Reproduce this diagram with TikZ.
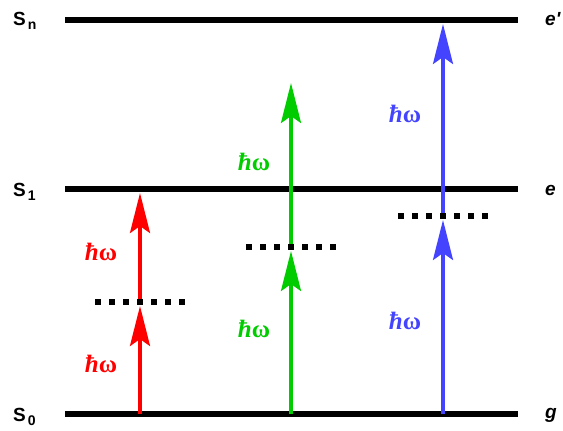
\documentclass[tikz,border=0pt]{standalone}
\usepackage{fontspec}
\setmainfont{Liberation Sans}
\newfontfamily\hfont{Liberation Serif}
\usetikzlibrary{arrows.meta}
\definecolor{cred}{RGB}{255,0,0}
\definecolor{cgreen}{RGB}{0,204,0}
\definecolor{cblue}{RGB}{68,68,255}
\newcommand{\lvsub}[1]{\hspace{2pt}\raisebox{-4pt}{\fontsize{14}{14}\selectfont #1}}
\begin{document}
\begin{tikzpicture}[x=1pt,y=-1pt,
  level/.style={line width=5.5pt},
  virt/.style={line width=6pt, dash pattern=on 6pt off 8pt},
  photon/.style={line width=3.5pt, -{Stealth[length=40pt,width=20pt,inset=7pt]}, shorten >=4pt},
  lab/.style={font=\bfseries\fontsize{19}{19}\selectfont, anchor=base west, inner sep=0pt},
  rlab/.style={font=\bfseries\itshape\fontsize{19}{19}\selectfont, anchor=base west, inner sep=0pt},
  hw/.style={font=\hfont\bfseries\fontsize{25}{25}\selectfont, inner sep=0pt}]
\useasboundingbox (0,0) rectangle (563,431);
% levels
\coordinate (na) at (65,20);  \coordinate (nb) at (518,20);
\coordinate (ea) at (65,189); \coordinate (eb) at (518,189);
\coordinate (ga) at (65,414); \coordinate (gb) at (518,414);
\draw[level] (na) -- (nb);
\draw[level] (ea) -- (eb);
\draw[level] (ga) -- (gb);
\node[lab] (Sn) at (13,25) {S\lvsub{n}};
\node[lab] (S1) at (13,196) {S\lvsub{1}};
\node[lab] (S0) at (13,421) {S\lvsub{0}};
\node[rlab] (ep) at (545,26) {e\textquotesingle};
\node[rlab] (e) at (545,195) {e};
\node[rlab] (g) at (545,418) {g};
% arrow anchor points
\coordinate (r0) at (140,414); \coordinate (r1) at (140,302); \coordinate (r2) at (140,189);
\coordinate (g0) at (291,414); \coordinate (g1) at (291,247); \coordinate (g2) at (291,79);
\coordinate (b0) at (443,414); \coordinate (b1) at (443,216); \coordinate (b2) at (443,20);
\draw[photon,cred] (r0) -- (r1);
\draw[photon,cred] (r1) -- (r2);
\draw[photon,cgreen] (g0) -- (g1);
\draw[photon,cgreen] (g1) -- (g2);
\draw[photon,cblue] (b0) -- (b1);
\draw[photon,cblue] (b1) -- (b2);
% virtual levels
\coordinate (vra) at (95,302);  \coordinate (vrb) at (186,302);
\coordinate (vga) at (246,247); \coordinate (vgb) at (337,247);
\coordinate (vba) at (398,216); \coordinate (vbb) at (489,216);
\draw[virt] (vra) -- (vrb);
\draw[virt] (vga) -- (vgb);
\draw[virt] (vba) -- (vbb);
% photon labels
\node[hw,text=cred] (hr1) at (101,364) {{\itshape ħ}ω};
\node[hw,text=cred] (hr2) at (101,252) {{\itshape ħ}ω};
\node[hw,text=cgreen] (hg1) at (254,329) {{\itshape ħ}ω};
\node[hw,text=cgreen] (hg2) at (254,162) {{\itshape ħ}ω};
\node[hw,text=cblue] (hb1) at (405,321) {{\itshape ħ}ω};
\node[hw,text=cblue] (hb2) at (405,114) {{\itshape ħ}ω};
\end{tikzpicture}
\end{document}
